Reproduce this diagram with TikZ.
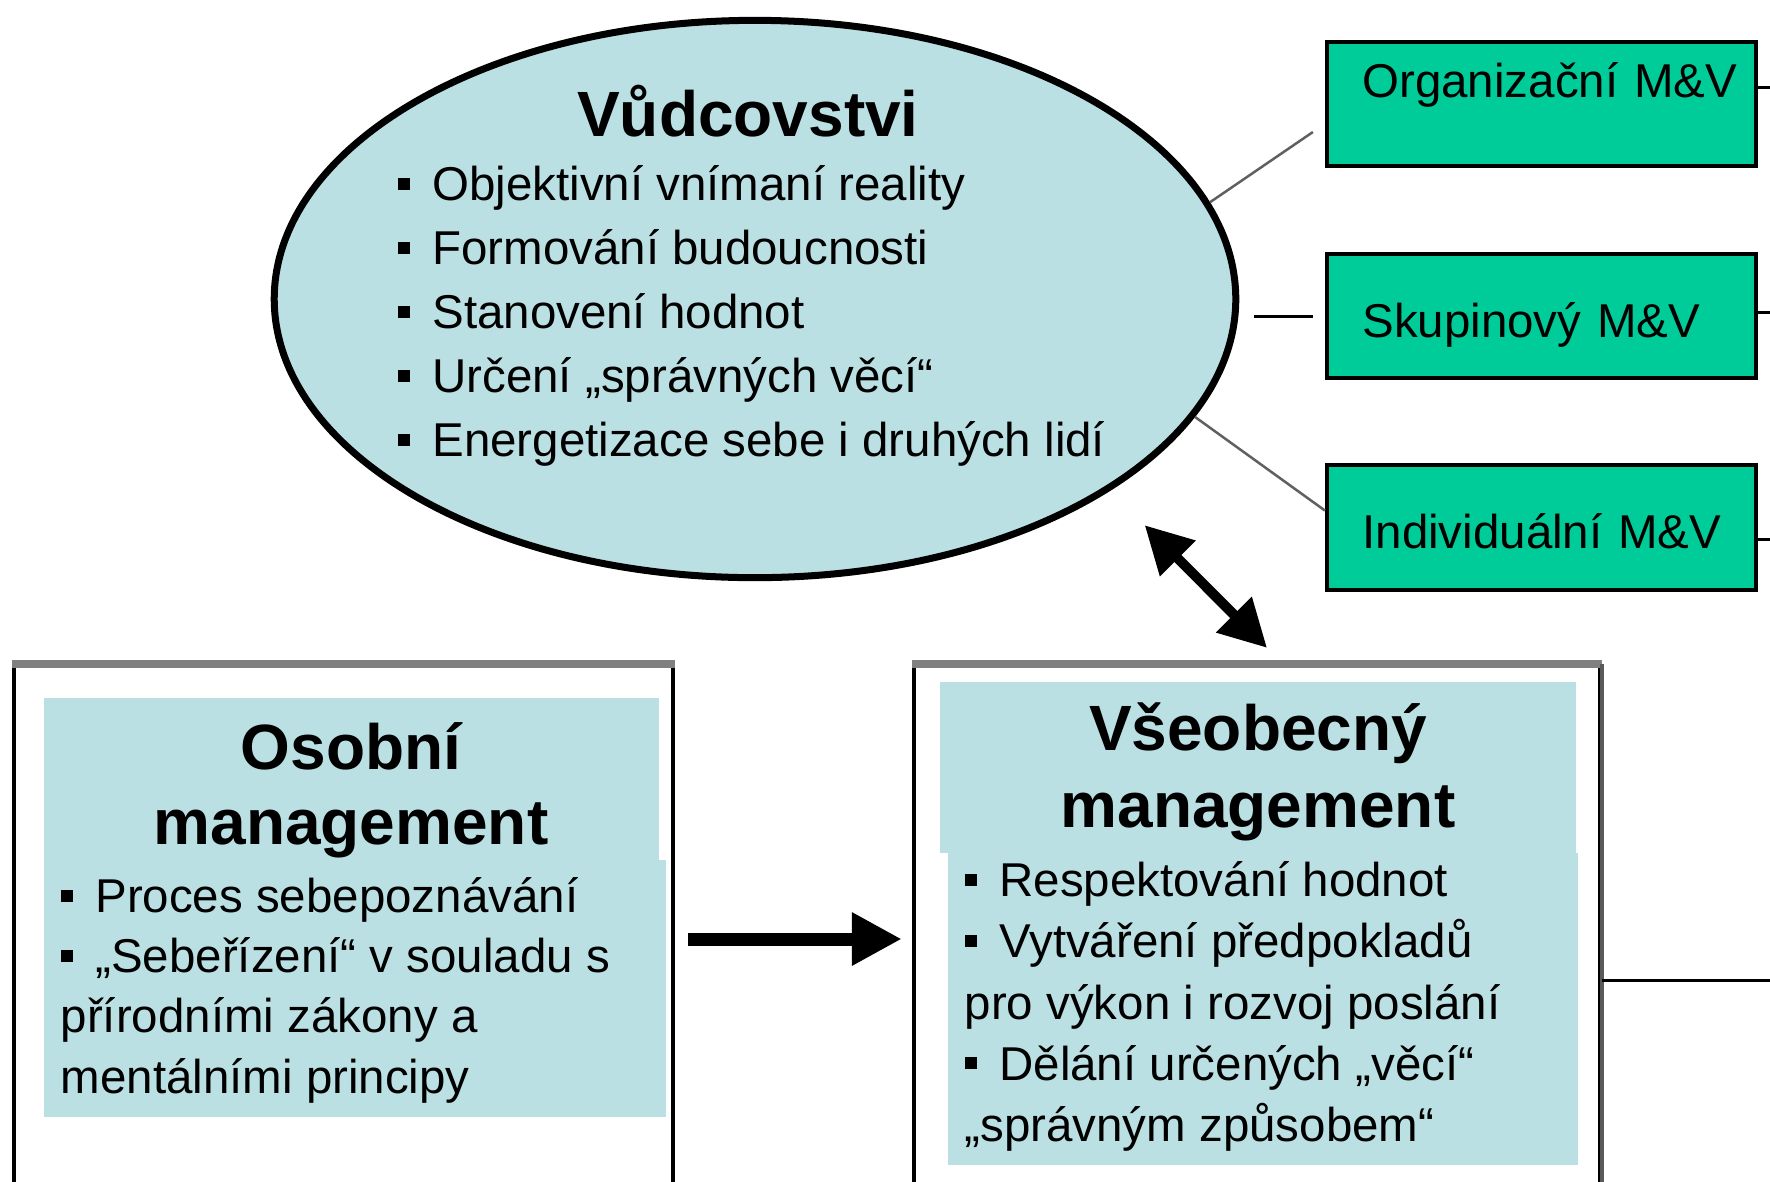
\documentclass[tikz,border=0pt]{standalone}
\usepackage{fontspec}
\setmainfont{Liberation Sans}
\usetikzlibrary{shapes.geometric, arrows.meta, positioning}
\definecolor{paleblue}{HTML}{BBE0E3}
\definecolor{mvgreen}{HTML}{00CC99}
\newcommand{\bul}{\rule[0.23em]{0.25em}{0.25em}\hspace{0.48em}}
\tikzset{
  leader/.style={ellipse, draw=black, line width=0.07cm, fill=paleblue, minimum width=9.61cm, minimum height=5.57cm, inner sep=0pt},
  mvbox/.style={rectangle, draw=black, line width=0.04cm, fill=mvgreen, minimum width=4.29cm, minimum height=1.24cm, text width=3.92cm, inner xsep=0.185cm, inner ysep=0pt, align=left, text height=0.45cm, text depth=0.03cm, font=\fontsize{13.5}{16}\selectfont, execute at begin node={\hspace*{0.17cm}}},
  mframe/.style={rectangle, draw=black, line width=0.04cm, minimum height=5.46cm, inner sep=0pt},
  frametop/.style={draw=gray, line width=0.08cm},
  headtext/.style={font=\fontsize{18.2}{21.3}\selectfont\bfseries, align=center, inner sep=0pt},
  items/.style={align=left, inner sep=0pt, anchor=north west, font=\fontsize{13.5}{18.2}\selectfont},
  link/.style={draw=black, line width=0.03cm},
  thinlink/.style={draw=gray!75!black, line width=0.025cm},
  bigarrow/.style={line width=0.13cm, -{Triangle[length=0.5cm, width=0.5cm]}},
  twoway/.style={line width=0.1cm, {Triangle[length=0.47cm, width=0.48cm]}-{Triangle[length=0.47cm, width=0.48cm]}},
}

\begin{document}
\begin{tikzpicture}[x=0.01cm, y=-0.01cm]
  \useasboundingbox (0,0) rectangle (1770,1181);
  \clip (0,0) rectangle (1770,1181);

  % leadership ellipse
  \node (lead) [leader] at (755,299) {};
  \node (leadtitle) [headtext, anchor=base] at (748,136) {Vůdcovstvi};
  \node (leadlist) [items] at (397,165) {\bul Objektivní vnímaní reality\\
    \bul Formování budoucnosti\\
    \bul Stanovení hodnot\\
    \bul Určení „správných věcí“\\
    \bul Energetizace sebe i druhých lidí};

  % M&V boxes
  \node (orgmv) [mvbox, text height=0.3cm, text depth=0.44cm] at (1541.5,104) {Organizační M\&V};
  \node (skupmv) [mvbox] at (1541.5,316) {Skupinový M\&V};
  \node (indmv) [mvbox] at (1541.5,527.5) {Individuální M\&V};

  % management frames
  \node (osobni) [mframe, minimum width=6.59cm] at (343.5,939) {};
  \node (vseob) [mframe, minimum width=6.86cm] at (1257,939) {};
  \draw [frametop] (osobni.north west) -- (osobni.north east);
  \draw [frametop] (vseob.north west) -- (vseob.north east);
  \draw [line width=0.04cm, gray!70!black] (vseob.north east) -- (vseob.south east);

  \fill [paleblue] (44,698) rectangle (659,860);
  \fill [paleblue] (44,860) rectangle (666,1117);
  \fill [paleblue] (940,682) rectangle (1576,853);
  \fill [paleblue] (948,853) rectangle (1578,1165);

  \node (osobnititle) [headtext, anchor=north] at (351,722) {Osobní\\management};
  \node (osobnilist) [items, font=\fontsize{13.5}{17.1}\selectfont] at (60,877) {\bul Proces sebepoznávání\\
    \bul „Sebeřízení“ v souladu s\\
    přírodními zákony a\\
    mentálními principy};
  \node (vseobtitle) [headtext, anchor=north, font=\fontsize{18.2}{21.9}\selectfont\bfseries] at (1258,702) {Všeobecný\\management};
  \node (vseoblist) [items, font=\fontsize{13.5}{17.4}\selectfont] at (964,861) {\bul Respektování hodnot\\
    \bul Vytváření předpokladů\\
    pro výkon i rozvoj poslání\\
    \bul Dělání určených „věcí“\\
    „správným způsobem“};

  % connectors
  \draw [thinlink] (lead.12) -- ([shift={(-12,28)}]orgmv.west);
  \draw [link, shorten <=0.15cm, shorten >=0.12cm] (lead.east |- skupmv.west) -- (skupmv.west);
  \draw [thinlink] (lead.-15) -- ([shift={(0,-17)}]indmv.west);
  \draw [link] ([shift={(0,-17)}]orgmv.east) -- ++(14,0);
  \draw [link] ([shift={(0,-4)}]skupmv.east) -- ++(14,0);
  \draw [link] ([shift={(0,12)}]indmv.east) -- ++(14,0);
  \draw [link] ([shift={(0,41)}]vseob.east) -- ++(170,0);

  \draw [twoway] ([shift={(32,36)}]lead.-28) -- ([shift={(10,-16)}]vseob.north);
  \draw [bigarrow, shorten <=0.13cm, shorten >=0.1cm] (osobni.east) -- (vseob.west);

\end{tikzpicture}
\end{document}
